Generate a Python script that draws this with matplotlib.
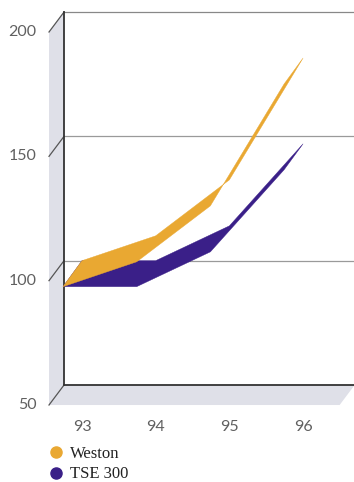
import matplotlib
matplotlib.use('Agg')
import matplotlib.pyplot as plt
from matplotlib.lines import Line2D
from matplotlib.patches import Polygon

# dados
anos = [93, 94, 95, 96]
weston = [100, 110, 132.5, 181.5]
tse300 = [100, 100, 114, 147]
y_ticks = [50, 100, 150, 200]
nomes = ['Weston', 'TSE 300']
cores = ['#e9a832', '#3a1f88']

# profundidade "3D" (em unidades de dados)
fita_dx, fita_dy = -0.258, -10.45
parede_dx, parede_dy = -0.204, -8.04
x_parede = 92.756
x_fim = 96.70

fig = plt.figure(figsize=(3.54, 4.82), dpi=100)
ax = fig.add_axes([0, 0, 1, 1])
ax.set_xlim(91.887, 96.691)
ax.set_ylim(11.0, 204.83)
ax.axis('off')

parede_cor = '#dfe0e8'
# chao
chao = Polygon([(x_parede, 50), (x_fim, 50), (x_fim + parede_dx, 50 + parede_dy),
                (x_parede + parede_dx, 50 + parede_dy)], closed=True,
               facecolor=parede_cor, edgecolor='none', zorder=1)
ax.add_patch(chao)
# parede esquerda
parede = Polygon([(x_parede, 50), (x_parede, 200), (x_parede + parede_dx, 200 + parede_dy),
                  (x_parede + parede_dx, 50 + parede_dy)], closed=True,
                 facecolor=parede_cor, edgecolor='none', zorder=1)
ax.add_patch(parede)

# grades
for v in y_ticks:
    if v in (100, 150):
        ax.plot([x_parede, x_fim], [v, v], color='#9a9a9a', lw=0.9, zorder=2)
    elif v == 200:
        ax.plot([x_parede, x_fim], [v, v], color='#888888', lw=0.9, zorder=2)
    ax.plot([x_parede, x_parede + parede_dx], [v, v + parede_dy], color='#555555', lw=0.9, zorder=2)
    ax.annotate(str(v), (x_parede + parede_dx, v + parede_dy), xytext=(-9, 0),
                textcoords='offset points', ha='right', va='center',
                fontsize=11.5, color='#606060', family='Lato')

ax.plot([x_parede, x_fim], [50, 50], color='#333333', lw=1.3, zorder=3)
ax.plot([x_parede, x_parede], [50, 200], color='#333333', lw=1.3, zorder=3)

for a in anos:
    ax.annotate(str(a), (a, 50), xytext=(0, -30), textcoords='offset points',
                ha='center', va='center', fontsize=11.5, color='#606060',
                family='Lato')

# fitas
for serie, cor, z in [(tse300, cores[1], 4), (weston, cores[0], 5)]:
    tras = list(zip(anos, serie))
    frente = [(x + fita_dx, y + fita_dy) for x, y in tras]
    poly = Polygon(tras + frente[::-1], closed=True, facecolor=cor,
                   edgecolor=cor, lw=0.3, zorder=z)
    ax.add_patch(poly)

handles = [Line2D([], [], marker='o', ls='', color=c, markersize=8) for c in cores]
leg = ax.legend(handles, nomes, loc='upper left', bbox_to_anchor=(48 / 354, 36 / 482),
                bbox_transform=fig.transFigure, frameon=False, handlelength=1,
                handletextpad=0.3, labelspacing=0.27, borderpad=0, borderaxespad=0,
                prop={'family': 'Liberation Serif', 'size': 12})
for t in leg.get_texts():
    t.set_color('#222222')

fig.savefig('out.png', dpi=100)
